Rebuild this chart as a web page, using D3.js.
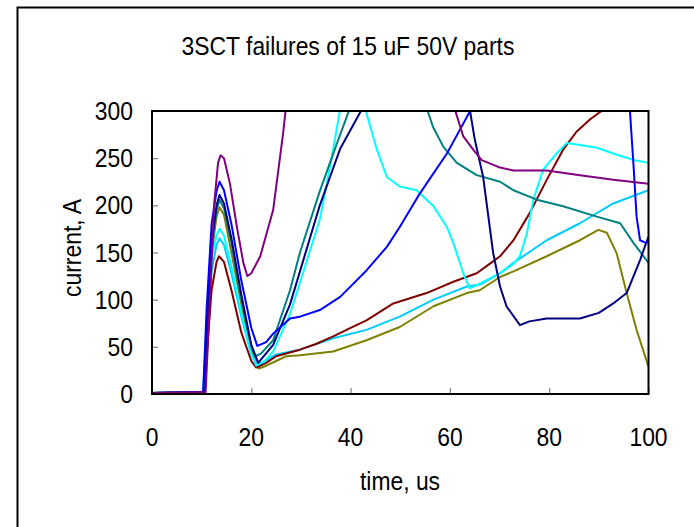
<!DOCTYPE html>
<html>
<head>
<meta charset="utf-8">
<script src="https://cdn.jsdelivr.net/npm/d3@7"></script>
<style>
    body { margin: 0; background: #fff; }
    text { font-family: "Liberation Sans", Arial, sans-serif; fill: #000; }
</style>
</head>
<body>
<div id="chart"></div>
<script>
// Chart text
const title = '3SCT failures of 15 uF 50V parts';
const xLabel = 'time, us';
const yLabel = 'current, A';
const xTicks = [0, 20, 40, 60, 80, 100];
const yTicks = [0, 50, 100, 150, 200, 250, 300];

// Traces: [time us, current A], null = off the top of the scale
const purple = [[0, 1], [10.8, 2], [11.5, 80], [12.5, 200], [13.3, 245], [13.8, 253], [14.5, 250], [15.7, 223],
    [17.1, 177], [18.4, 139], [19.2, 125], [20, 128], [21.8, 146], [24.4, 195], [26.4, 276], [27, 305], null,
    [60.8, 305], [62.7, 273], [64.7, 259], [66.4, 248], [70.1, 240], [72.8, 237], [79.5, 237], [86.2, 232],
    [92.9, 227], [100, 223]];
const navy = [[0, 1], [10.4, 2], [11, 60], [12, 160], [13, 200], [13.6, 211], [14.5, 202], [16, 165], [18, 105],
    [20, 52], [21.4, 33], [24.4, 52], [27.8, 95], [29.8, 130], [33.8, 200], [37.9, 260], [42.6, 305], null,
    [63.9, 305], [65, 270], [66.7, 230], [68.7, 150], [70.1, 114], [71.4, 93], [74.1, 73], [76, 77],
    [79.5, 80], [86.2, 80], [90, 86], [92.9, 96], [95.6, 107], [98.3, 142], [100, 167]];
const blue = [[0, 1], [10.3, 2], [11, 90], [12, 180], [13, 215], [13.6, 225], [14.5, 216], [16, 180], [18, 120],
    [20, 70], [21.2, 51], [23, 55], [24.4, 64], [27.8, 80], [29.8, 82], [33.8, 89], [37.9, 103], [43.2, 131],
    [47.3, 156], [49.9, 177], [54, 213], [59.4, 255], [62, 280], [64.6, 305], null,
    [96.2, 305], [97, 241], [97.6, 188], [98.3, 163], [99.6, 160], [100, 165]];
const teal = [[0, 1], [10.4, 2], [11, 60], [12, 150], [13, 195], [13.6, 206], [14.5, 197], [16, 160], [18, 100],
    [20, 50], [20.8, 40], [22, 43], [24.4, 57], [27.8, 110], [29.8, 150], [33.8, 215], [37, 262], [40, 305], null,
    [55.2, 305], [56.6, 283], [58.7, 262], [61.4, 245], [65.4, 232], [70.1, 225], [72.8, 216], [77.5, 206],
    [82.8, 199], [89.6, 188], [94.3, 181], [97, 160], [100, 139]];
const cyan = [[0, 1], [10.3, 2], [11, 70], [12, 145], [13, 168], [13.6, 175], [14.5, 168], [16, 135], [18, 85],
    [20, 42], [21, 30], [22.5, 34], [24.4, 45], [27.8, 85], [29.8, 118], [33.8, 185], [36, 245], [38, 305], null,
    [42.8, 305], [45.3, 259], [47.3, 230], [49.9, 220], [53.3, 216], [56.7, 199], [59.4, 177], [60.7, 160],
    [62.7, 128], [64, 112], [66, 117], [70.1, 128], [72.8, 138], [74.1, 146], [75.5, 170], [76.8, 206],
    [78.8, 238], [81.5, 255], [83.5, 266], [86.2, 264], [89.6, 261], [92.9, 255], [97, 248], [100, 245]];
const darkRed = [[0, 1], [10.5, 2], [11, 40], [12, 110], [13, 140], [13.5, 146], [14.5, 140], [16, 110], [18, 65],
    [20, 35], [21, 28], [23, 33], [25, 40], [27, 43], [29.8, 47], [33, 53], [36.5, 61], [40, 70], [43.2, 78],
    [48.6, 96], [55.3, 107], [60.7, 119], [65.4, 128], [68, 138], [70.1, 146], [72.8, 163], [76.1, 192],
    [79.5, 227], [82.8, 259], [85.5, 278], [88.2, 291], [91.8, 305], null];
const olive = [[0, 1], [10.5, 2], [11, 60], [12, 150], [13, 188], [13.6, 198], [14.5, 190], [16, 150], [18, 95],
    [20, 45], [21.5, 27], [23, 30], [25, 35], [27, 40], [29.8, 41], [36.5, 45], [43.2, 57], [49.9, 71],
    [56.7, 93], [63.4, 107], [66, 110], [70.1, 124], [72.8, 130], [79.5, 146], [86.2, 163], [89.9, 174],
    [91.6, 171], [93.6, 149], [95.6, 107], [97.6, 68], [100, 29]];
const skyBlue = [[0, 1], [10.3, 2], [11, 60], [12, 130], [13, 158], [13.6, 165], [14.5, 158], [16, 128], [18, 82],
    [20, 42], [21.3, 30], [23, 36], [25, 42], [29.8, 47], [36.5, 59], [43.2, 68], [49.9, 82], [56.7, 100],
    [63.4, 114], [66.1, 116], [70.1, 128], [72.8, 139], [79.5, 163], [86.2, 181], [92.9, 202], [100, 216]];

const seriesData = [olive, skyBlue, darkRed, cyan, teal, navy, blue, purple];
const seriesColors = ['#808000', '#00ccff', '#800000', '#00ffff', '#008080', '#000080', '#0000ff', '#800080'];

// Layout
const config = {
    width: 694,
    height: 527,
    left: 152,
    right: 648.5,
    top: 111,
    bottom: 394,
    fontSize: '26px',
    squeeze: 0.88   // source text looks horizontally condensed
};

const svg = d3.select('#chart')
    .append('svg')
    .attr('width', config.width)
    .attr('height', config.height);

// Outer chart frame (runs off the right and bottom edge)
svg.append('rect')
    .attr('x', 17.5)
    .attr('y', 7.5)
    .attr('width', 720)
    .attr('height', 560)
    .attr('fill', 'none')
    .attr('stroke', '#000')
    .attr('stroke-width', 2);

const x = d3.scaleLinear().domain([0, 100]).range([config.left, config.right]);
const y = d3.scaleLinear().domain([0, 300]).range([config.bottom, config.top]);

svg.append('clipPath')
    .attr('id', 'plot-clip')
    .append('rect')
    .attr('x', config.left)
    .attr('y', config.top)
    .attr('width', config.right - config.left)
    .attr('height', config.bottom - config.top);

// Ticks point inward, labels drawn separately
const xAxis = svg.append('g')
    .attr('transform', `translate(0,${config.bottom})`)
    .call(d3.axisBottom(x).tickValues(xTicks).tickSizeInner(-6).tickSizeOuter(0).tickFormat(''));
const yAxis = svg.append('g')
    .attr('transform', `translate(${config.left},0)`)
    .call(d3.axisLeft(y).tickValues(yTicks).tickSizeInner(-6).tickSizeOuter(0).tickFormat(''));
[xAxis, yAxis].forEach(a => {
    a.select('.domain').remove();
    a.selectAll('.tick line').attr('stroke', '#808080').attr('stroke-width', 1.2);
});

// Lines
const line = d3.line()
    .defined(d => d !== null)
    .x(d => x(d[0]))
    .y(d => y(d[1]));

svg.append('g')
    .attr('clip-path', 'url(#plot-clip)')
    .selectAll('path')
    .data(seriesData)
    .join('path')
    .attr('d', line)
    .attr('fill', 'none')
    .attr('stroke', (d, i) => seriesColors[i])
    .attr('stroke-width', 2)
    .attr('stroke-linejoin', 'round');

// Plot frame on top
svg.append('rect')
    .attr('x', config.left)
    .attr('y', config.top)
    .attr('width', config.right - config.left)
    .attr('height', config.bottom - config.top)
    .attr('fill', 'none')
    .attr('stroke', '#000')
    .attr('stroke-width', 2);

// Text
function squeeze(sel) {
    sel.each(function () {
        const len = this.getComputedTextLength();
        d3.select(this).attr('textLength', len * config.squeeze).attr('lengthAdjust', 'spacingAndGlyphs');
    });
}

svg.append('text')
    .attr('x', 348)
    .attr('y', 55)
    .attr('text-anchor', 'middle')
    .style('font-size', config.fontSize)
    .text(title)
    .call(squeeze);

svg.selectAll('.ylab')
    .data(yTicks)
    .join('text')
    .attr('class', 'ylab')
    .attr('x', 133)
    .attr('y', d => y(d) + 9)
    .attr('text-anchor', 'end')
    .style('font-size', config.fontSize)
    .text(d => d)
    .call(squeeze);

svg.selectAll('.xlab')
    .data(xTicks)
    .join('text')
    .attr('class', 'xlab')
    .attr('x', d => x(d))
    .attr('y', 446)
    .attr('text-anchor', 'middle')
    .style('font-size', config.fontSize)
    .text(d => d)
    .call(squeeze);

svg.append('text')
    .attr('x', 400)
    .attr('y', 490)
    .attr('text-anchor', 'middle')
    .style('font-size', config.fontSize)
    .text(xLabel)
    .call(squeeze);

svg.append('text')
    .attr('transform', 'translate(81,248) rotate(-90)')
    .attr('text-anchor', 'middle')
    .style('font-size', config.fontSize)
    .text(yLabel)
    .call(squeeze);
</script>
</body>
</html>
